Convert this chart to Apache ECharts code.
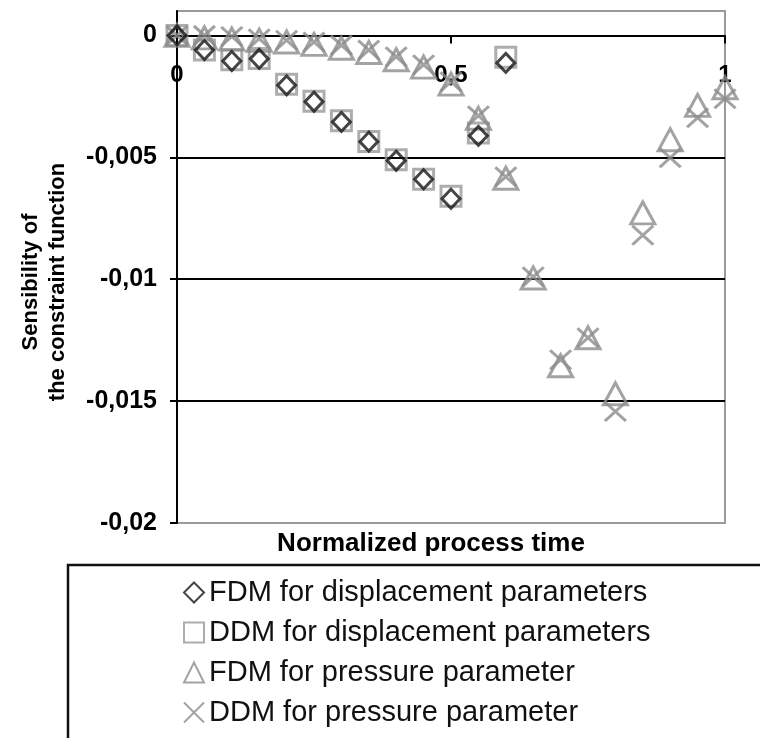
<!DOCTYPE html>
<html>
<head>
<meta charset="utf-8">
<script src="https://cdn.jsdelivr.net/npm/echarts@6/dist/echarts.min.js"></script>
<style>
  html, body { margin: 0; padding: 0; background: #fff; }
  #main { width: 760px; height: 738px; }
</style>
</head>
<body>
<div id="main"></div>
<script>
// normalized time for the displacement series (stop at 0.6)
const timeDisp = [0, 0.05, 0.1, 0.15, 0.2, 0.25, 0.3, 0.35, 0.4, 0.45, 0.5, 0.55, 0.6];
const fdmDisp = [0, -0.0006, -0.00105, -0.00096, -0.00205, -0.00272, -0.00355, -0.00436, -0.00514, -0.0059, -0.0067, -0.00412, -0.00113];
const ddmDisp = [0, -0.0006, -0.001, -0.00095, -0.002, -0.0027, -0.0035, -0.00435, -0.0051, -0.0059, -0.0066, -0.004, -0.0009];

// pressure series go all the way to 1
const timePres = [0, 0.05, 0.1, 0.15, 0.2, 0.25, 0.3, 0.35, 0.4, 0.45, 0.5, 0.55, 0.6, 0.65, 0.7, 0.75, 0.8, 0.85, 0.9, 0.95, 1];
const fdmPres = [0, -0.0001, -0.00015, -0.0002, -0.00027, -0.00037, -0.00053, -0.0007, -0.001, -0.0013, -0.002, -0.0034, -0.00586, -0.00995, -0.01355, -0.0124, -0.0147, -0.00728, -0.00428, -0.00287, -0.00215];
const ddmPres = [0, 0, -0.00005, -0.00014, -0.0002, -0.00027, -0.0004, -0.0006, -0.00088, -0.0012, -0.0019, -0.0033, -0.0058, -0.0099, -0.0133, -0.0124, -0.01543, -0.0082, -0.00502, -0.00338, -0.0026];

const seriesNames = [
  'FDM for displacement parameters',
  'DDM for displacement parameters',
  'FDM for pressure parameter',
  'DDM for pressure parameter'
];

const FONT = "'Liberation Sans', Arial, sans-serif";
const crossPath = 'path://M0,0L10,10M0,10L10,0';

// grid box
const gridTop = 11, gridBottom = 215, chartH = 738;
const yMin = -0.02, yMax = 0.001;

function zip(xs, ys) {
  return xs.map((x, i) => [x, ys[i]]);
}
function comma(v) {
  return v === 0 ? '0' : String(v).replace('.', ',');
}

// the time axis sits on y = 0, labels hang under it
const plotH = chartH - gridTop - gridBottom;
const zeroOffset = -plotH * (0 - yMin) / (yMax - yMin);

const chart = echarts.init(document.getElementById('main'));

chart.setOption({
  animation: false,
  backgroundColor: '#fff',
  grid: {
    left: 177, right: 35, top: gridTop, bottom: gridBottom,
    show: true, borderColor: '#9a9a9a', borderWidth: 2
  },
  xAxis: {
    type: 'value',
    position: 'bottom',
    offset: zeroOffset,
    min: 0, max: 1, interval: 0.5,
    axisLine: { onZero: false, lineStyle: { color: '#000', width: 2 } },
    axisTick: { show: true, inside: false, length: 8, lineStyle: { color: '#000', width: 2 } },
    axisLabel: {
      margin: 28, color: '#000', fontSize: 24, fontWeight: 'bold', fontFamily: FONT,
      formatter: comma
    },
    splitLine: { show: false }
  },
  yAxis: {
    type: 'value',
    min: yMin, max: yMax, interval: 0.005,
    axisLine: { show: true, onZero: false, lineStyle: { color: '#000', width: 2 } },
    axisTick: { show: true, length: 7, lineStyle: { color: '#000', width: 2 } },
    axisLabel: {
      margin: 20, color: '#000', fontSize: 25, fontWeight: 'bold', fontFamily: FONT,
      showMaxLabel: false,
      formatter: comma
    },
    splitLine: {
      show: true, showMinLine: false, showMaxLine: false,
      lineStyle: { color: '#000', width: 2 }
    }
  },
  legend: {
    orient: 'vertical',
    left: 178, top: 573,
    itemWidth: 20, itemHeight: 20, itemGap: 11,
    data: seriesNames,
    textStyle: { fontSize: 29, color: '#111', fontFamily: FONT }
  },
  graphic: [
    {
      type: 'rect',
      shape: { x: 68, y: 565, width: 740, height: 220 },
      style: { fill: 'none', stroke: '#111', lineWidth: 2.5 }
    },
    {
      type: 'text', x: 431, y: 544,
      style: {
        text: 'Normalized process time', fill: '#000',
        font: 'bold 26px ' + FONT, align: 'center', verticalAlign: 'middle'
      }
    },
    {
      type: 'text', x: 44, y: 282, rotation: Math.PI / 2,
      style: {
        text: 'Sensibility of\nthe constraint function', fill: '#000',
        font: 'bold 22px ' + FONT, lineHeight: 27,
        align: 'center', verticalAlign: 'middle'
      }
    }
  ],
  series: [
    {
      name: seriesNames[0], type: 'scatter', z: 6,
      symbol: 'diamond', symbolSize: [18, 19],
      itemStyle: { color: 'rgba(0,0,0,0)', borderColor: '#151515', borderWidth: 3 },
      data: zip(timeDisp, fdmDisp)
    },
    {
      name: seriesNames[1], type: 'scatter', z: 3,
      symbol: 'rect', symbolSize: 20,
      itemStyle: { color: 'rgba(0,0,0,0)', borderColor: '#999', borderWidth: 3 },
      data: zip(timeDisp, ddmDisp)
    },
    {
      name: seriesNames[2], type: 'scatter', z: 4,
      symbol: 'triangle', symbolSize: [24, 22],
      itemStyle: { color: 'rgba(0,0,0,0)', borderColor: '#8c8c8c', borderWidth: 3 },
      data: zip(timePres, fdmPres)
    },
    {
      name: seriesNames[3], type: 'scatter', z: 5,
      symbol: crossPath, symbolSize: [21, 19],
      itemStyle: { color: 'rgba(0,0,0,0)', borderColor: '#8c8c8c', borderWidth: 3 },
      data: zip(timePres, ddmPres)
    }
  ]
});
</script>
</body>
</html>
